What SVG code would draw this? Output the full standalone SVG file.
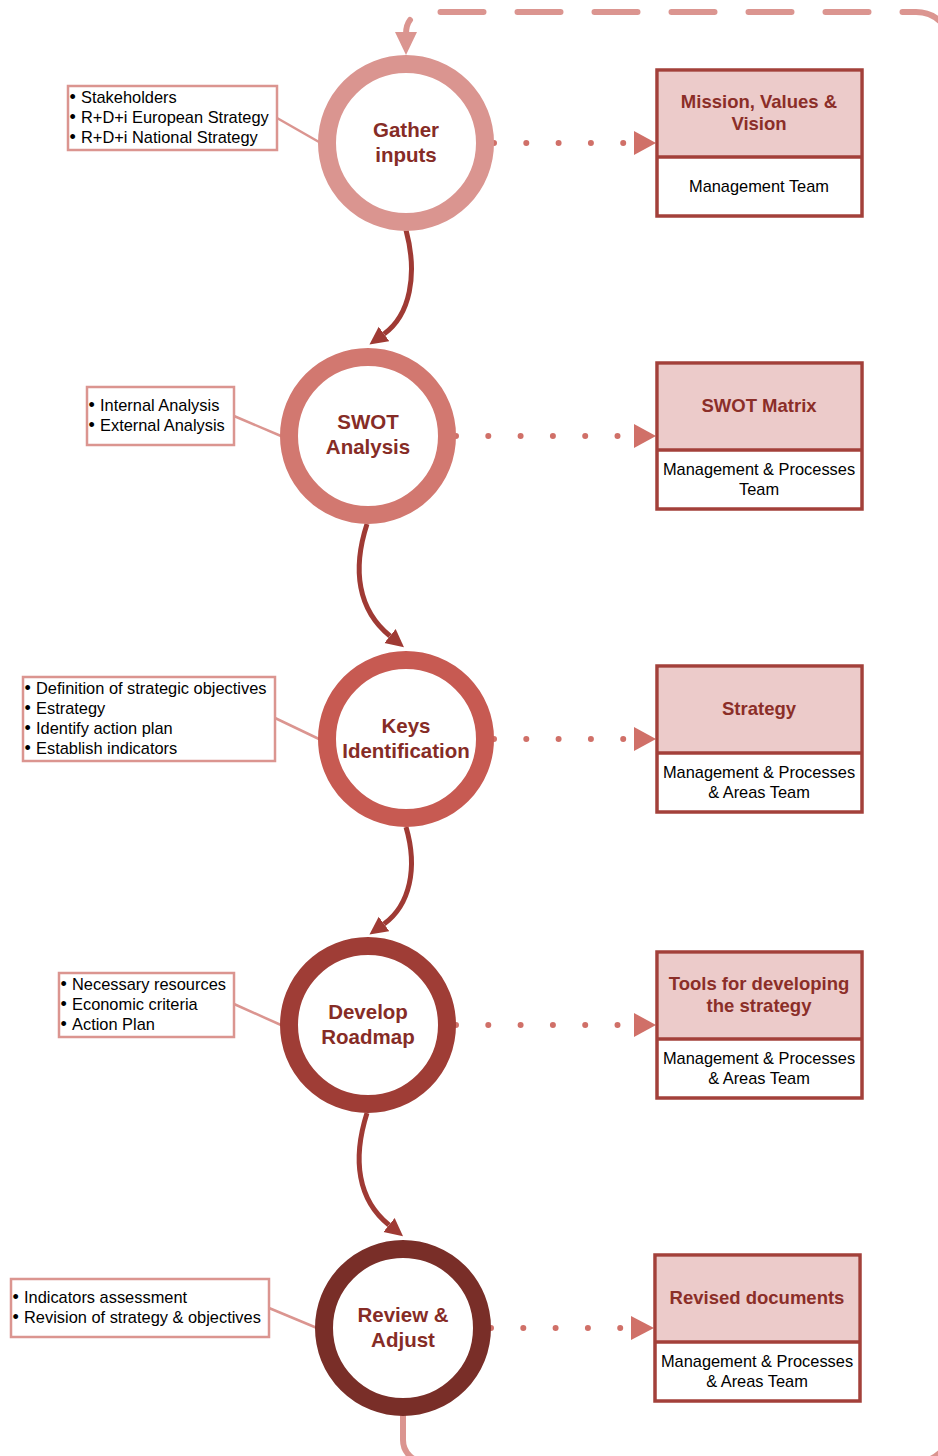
<svg xmlns="http://www.w3.org/2000/svg" width="938" height="1456" viewBox="0 0 938 1456">
<style>
.ring{fill:#fff;stroke-width:18}
.ctitle{font-family:"Liberation Sans",Arial,sans-serif;font-weight:bold;font-size:20.5px;fill:#862C26;text-anchor:middle}
.lbox{fill:#fff;stroke:#DB9590;stroke-width:2.5}
.ltext{font-family:"Liberation Sans",Arial,sans-serif;font-size:16.4px;fill:#000}
.bul{font-family:"Liberation Sans",Arial,sans-serif;font-size:18px;fill:#000}
.lconn{stroke:#DB9590;stroke-width:2.5;fill:none}
.rbox{fill:#fff;stroke:#A3403A;stroke-width:3.5}
.rhead{fill:#ECCBCA}
.rdiv{stroke:#A3403A;stroke-width:3.5}
.rtitle{font-family:"Liberation Sans",Arial,sans-serif;font-weight:bold;font-size:18.5px;fill:#8B2E28;text-anchor:middle}
.rtext{font-family:"Liberation Sans",Arial,sans-serif;font-size:16.4px;fill:#000;text-anchor:middle}
.dots{stroke:#D07068;stroke-width:6;stroke-linecap:round;stroke-dasharray:0 32.3;fill:none}
.tri{fill:#D07068}
.flow{stroke:#9F3A34;stroke-width:5;fill:none;marker-end:url(#head)}
.loop{stroke:#DB9590;stroke-width:6;fill:none;stroke-linecap:round}
</style>
<defs>
<marker id="head" viewBox="0 -10 20 20" markerWidth="20" markerHeight="20" refX="0" refY="0" orient="auto" markerUnits="userSpaceOnUse">
<path d="M0,-9 L18,0 L0,9 Z" fill="#9F3A34"/>
</marker>
</defs>

<g id="connectors">
<path class="loop" d="M403,1414 V1440 A22,22 0 0 0 425,1462 H916 A36,36 0 0 0 952,1426 V60"/>
<path class="loop" stroke-dasharray="43 34" d="M440.5,12 H916 A36,36 0 0 1 952,48 V70"/>
<path class="loop" d="M410,20 Q406,25 406,34"/>
<polygon points="395,32 417,32 406,55" fill="#DB9590"/>
<path class="flow" d="M406,230 C418,275 410,315 384,334"/>
<path class="flow" d="M367,524 C352,570 358,610 390,636"/>
<path class="flow" d="M406,827 C418,868 410,905 384,924"/>
<path class="flow" d="M367,1113 C352,1160 358,1200 389,1225"/>
<line class="lconn" x1="277" y1="118" x2="319" y2="142"/>
<line class="lconn" x1="234" y1="416" x2="281" y2="436"/>
<line class="lconn" x1="275" y1="718" x2="319" y2="739"/>
<line class="lconn" x1="234" y1="1004" x2="281" y2="1025"/>
<line class="lconn" x1="269" y1="1308" x2="317" y2="1328"/>
<line class="dots" x1="494" y1="143" x2="624" y2="143"/>
<polygon class="tri" points="634,131 656,143 634,155"/>
<line class="dots" x1="456" y1="436" x2="618" y2="436"/>
<polygon class="tri" points="634,424 656,436 634,448"/>
<line class="dots" x1="494" y1="739" x2="624" y2="739"/>
<polygon class="tri" points="634,727 656,739 634,751"/>
<line class="dots" x1="456" y1="1025" x2="618" y2="1025"/>
<polygon class="tri" points="634,1013 656,1025 634,1037"/>
<line class="dots" x1="491" y1="1328" x2="621" y2="1328"/>
<polygon class="tri" points="631,1316 654,1328 631,1340"/>
</g>

<g id="gather">
<circle class="ring" cx="406" cy="143" r="79" stroke="#DA9590"/>
<text class="ctitle" x="406" y="137">Gather</text>
<text class="ctitle" x="406" y="162">inputs</text>
</g>
<g id="swot">
<circle class="ring" cx="368" cy="436" r="79" stroke="#D27870"/>
<text class="ctitle" x="368" y="429">SWOT</text>
<text class="ctitle" x="368" y="454">Analysis</text>
</g>
<g id="keys">
<circle class="ring" cx="406" cy="739" r="79" stroke="#C75A52"/>
<text class="ctitle" x="406" y="733">Keys</text>
<text class="ctitle" x="406" y="758">Identification</text>
</g>
<g id="develop">
<circle class="ring" cx="368" cy="1025" r="79" stroke="#9F3D36"/>
<text class="ctitle" x="368" y="1019">Develop</text>
<text class="ctitle" x="368" y="1044">Roadmap</text>
</g>
<g id="review">
<circle class="ring" cx="403" cy="1328" r="79" stroke="#792E28"/>
<text class="ctitle" x="403" y="1322">Review &amp;</text>
<text class="ctitle" x="403" y="1347">Adjust</text>
</g>

<g id="inputs-list">
<rect class="lbox" x="68" y="86" width="209" height="64"/>
<text class="ltext" y="103"><tspan class="bul" x="69.5">•</tspan><tspan x="81">Stakeholders</tspan></text>
<text class="ltext" y="123"><tspan class="bul" x="69.5">•</tspan><tspan x="81">R+D+i European Strategy</tspan></text>
<text class="ltext" y="143"><tspan class="bul" x="69.5">•</tspan><tspan x="81">R+D+i National Strategy</tspan></text>
</g>
<g id="swot-list">
<rect class="lbox" x="87" y="387" width="147" height="58"/>
<text class="ltext" y="411"><tspan class="bul" x="88.5">•</tspan><tspan x="100">Internal Analysis</tspan></text>
<text class="ltext" y="431"><tspan class="bul" x="88.5">•</tspan><tspan x="100">External Analysis</tspan></text>
</g>
<g id="keys-list">
<rect class="lbox" x="23" y="677" width="252" height="84"/>
<text class="ltext" y="694"><tspan class="bul" x="24.5">•</tspan><tspan x="36">Definition of strategic objectives</tspan></text>
<text class="ltext" y="714"><tspan class="bul" x="24.5">•</tspan><tspan x="36">Estrategy</tspan></text>
<text class="ltext" y="734"><tspan class="bul" x="24.5">•</tspan><tspan x="36">Identify action plan</tspan></text>
<text class="ltext" y="754"><tspan class="bul" x="24.5">•</tspan><tspan x="36">Establish indicators</tspan></text>
</g>
<g id="develop-list">
<rect class="lbox" x="59" y="973" width="175" height="64"/>
<text class="ltext" y="990"><tspan class="bul" x="60.5">•</tspan><tspan x="72">Necessary resources</tspan></text>
<text class="ltext" y="1010"><tspan class="bul" x="60.5">•</tspan><tspan x="72">Economic criteria</tspan></text>
<text class="ltext" y="1030"><tspan class="bul" x="60.5">•</tspan><tspan x="72">Action Plan</tspan></text>
</g>
<g id="review-list">
<rect class="lbox" x="11" y="1279" width="258" height="58"/>
<text class="ltext" y="1303"><tspan class="bul" x="12.5">•</tspan><tspan x="24">Indicators assessment</tspan></text>
<text class="ltext" y="1323"><tspan class="bul" x="12.5">•</tspan><tspan x="24">Revision of strategy &amp; objectives</tspan></text>
</g>

<g id="mission-box">
<rect class="rbox" x="657" y="70" width="205" height="146"/>
<rect class="rhead" x="659" y="72" width="201" height="85"/>
<line class="rdiv" x1="657" y1="157" x2="862" y2="157"/>
<text class="rtitle" x="759" y="108">Mission, Values &amp;</text>
<text class="rtitle" x="759" y="130">Vision</text>
<text class="rtext" x="759" y="192">Management Team</text>
</g>
<g id="swot-box">
<rect class="rbox" x="657" y="363" width="205" height="146"/>
<rect class="rhead" x="659" y="365" width="201" height="85"/>
<line class="rdiv" x1="657" y1="450" x2="862" y2="450"/>
<text class="rtitle" x="759" y="412">SWOT Matrix</text>
<text class="rtext" x="759" y="475">Management &amp; Processes</text>
<text class="rtext" x="759" y="495">Team</text>
</g>
<g id="strategy-box">
<rect class="rbox" x="657" y="666" width="205" height="146"/>
<rect class="rhead" x="659" y="668" width="201" height="85"/>
<line class="rdiv" x1="657" y1="753" x2="862" y2="753"/>
<text class="rtitle" x="759" y="715">Strategy</text>
<text class="rtext" x="759" y="778">Management &amp; Processes</text>
<text class="rtext" x="759" y="798">&amp; Areas Team</text>
</g>
<g id="tools-box">
<rect class="rbox" x="657" y="952" width="205" height="146"/>
<rect class="rhead" x="659" y="954" width="201" height="85"/>
<line class="rdiv" x1="657" y1="1039" x2="862" y2="1039"/>
<text class="rtitle" x="759" y="990">Tools for developing</text>
<text class="rtitle" x="759" y="1012">the strategy</text>
<text class="rtext" x="759" y="1064">Management &amp; Processes</text>
<text class="rtext" x="759" y="1084">&amp; Areas Team</text>
</g>
<g id="revised-box">
<rect class="rbox" x="655" y="1255" width="205" height="146"/>
<rect class="rhead" x="657" y="1257" width="201" height="85"/>
<line class="rdiv" x1="655" y1="1342" x2="860" y2="1342"/>
<text class="rtitle" x="757" y="1304">Revised documents</text>
<text class="rtext" x="757" y="1367">Management &amp; Processes</text>
<text class="rtext" x="757" y="1387">&amp; Areas Team</text>
</g>
</svg>
